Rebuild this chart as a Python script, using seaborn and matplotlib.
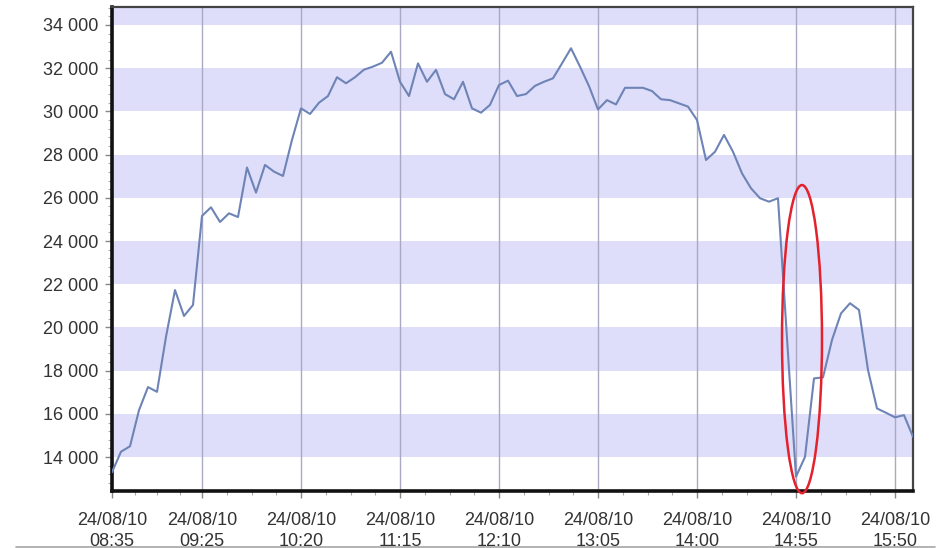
import numpy as np
import pandas as pd
import matplotlib
matplotlib.use("Agg")
import matplotlib.pyplot as plt
import matplotlib.dates as mdates
from matplotlib.patches import Ellipse
from matplotlib.lines import Line2D
from matplotlib.ticker import FuncFormatter, MultipleLocator, FixedLocator
import seaborn as sns

# ---------------- data ----------------
day = "2010-08-24"
start_time = "08:35"
step_minutes = 5
values = [
    13300, 14250, 14500, 16170, 17240, 17020, 19570, 21730, 20530, 21040,
    25160, 25560, 24880, 25280, 25110, 27400, 26240, 27520, 27210, 27010,
    28680, 30140, 29880, 30400, 30710, 31580, 31300, 31580, 31930, 32070,
    32250, 32760, 31370, 30710, 32220, 31370, 31920, 30800, 30560, 31370,
    30140, 29940, 30300, 31220, 31420, 30710, 30800, 31180, 31370, 31530,
    32220, 32920, 32070, 31170, 30090, 30520, 30320, 31090, 31090, 31090,
    30940, 30560, 30520, 30370, 30220, 29600, 27750, 28130, 28910, 28130,
    27130, 26440, 25980, 25820, 25980, 19500, 13090, 14010, 17640, 17690,
    19420, 20650, 21120, 20810, 18030, 16250, 16050, 15840, 15940, 14940,
]
tick_times = ["08:35", "09:25", "10:20", "11:15", "12:10", "13:05", "14:00", "14:55", "15:50"]
x_limits = ("08:35", "16:00")
y_limits = (12430, 34830)
y_major = list(range(14000, 34001, 2000))
band_starts = [14000, 18000, 22000, 26000, 30000, 34000]
band_height = 2000
highlight_time = "14:58:20"
highlight_value = 19460
highlight_width_min = 22.2
highlight_height = 14260

# ---------------- frame ----------------
times = pd.date_range(f"{day} {start_time}", periods=len(values), freq=f"{step_minutes}min")
df = pd.DataFrame({"time": times, "value": values})

sns.set_style("white")
plt.rcParams["font.family"] = ["Liberation Sans", "DejaVu Sans"]

fig = plt.figure(figsize=(9.38, 5.48), dpi=100)
ax = fig.add_axes([112 / 938, 1 - 491 / 548, (913 - 112) / 938, (491 - 7) / 548])

for b in band_starts:
    ax.axhspan(b, b + band_height, color="#dedefa", lw=0, zorder=0)

major_dt = [pd.Timestamp(f"{day} {t}") for t in tick_times]
for t in major_dt:
    ax.axvline(t, color="#a9a9c4", lw=1.0, zorder=1)

sns.lineplot(data=df, x="time", y="value", ax=ax, color="#6e84b6", lw=1.5, zorder=3)

ax.set_xlim(pd.Timestamp(f"{day} {x_limits[0]}"), pd.Timestamp(f"{day} {x_limits[1]}"))
ax.set_ylim(*y_limits)

# ticks
major_num = mdates.date2num(major_dt)
ax.xaxis.set_major_locator(FixedLocator(major_num))
minor_num = []
for a, b in zip(major_num[:-1], major_num[1:]):
    for k in (1, 2, 3):
        minor_num.append(a + (b - a) * k / 4)
minor_num.append(major_num[-1] + (major_num[-1] - major_num[-2]) / 4)
ax.xaxis.set_minor_locator(FixedLocator(minor_num))
ax.xaxis.set_major_formatter(mdates.DateFormatter("%d/%m/%y\n%H:%M"))

ax.yaxis.set_major_locator(FixedLocator(y_major))
ax.yaxis.set_minor_locator(MultipleLocator(400))
ax.yaxis.set_major_formatter(FuncFormatter(lambda v, p: f"{int(v):,}".replace(",", " ")))

ax.tick_params(axis="both", which="major", length=5, width=1, color="#888888",
               labelsize=13, labelcolor="#333333", direction="out", pad=5)
ax.tick_params(axis="both", which="minor", length=3, width=0.8, color="#aaaaaa", direction="out")
ax.tick_params(axis="x", which="major", pad=10)
ax.tick_params(bottom=True, left=True, which="both")
fig.canvas.draw()
for lab in ax.get_xticklabels():
    lab.set_linespacing(1.3)
    lab.set_horizontalalignment("center")

ax.set_xlabel("")
ax.set_ylabel("")

for side in ["left", "bottom"]:
    ax.spines[side].set_color("#111111")
    ax.spines[side].set_linewidth(2.6)
for side in ["top", "right"]:
    ax.spines[side].set_color("#444444")
    ax.spines[side].set_linewidth(1.6)
    ax.spines[side].set_visible(True)

# highlight ellipse
cx = mdates.date2num(pd.Timestamp(f"{day} {highlight_time}"))
ell = Ellipse((cx, highlight_value), width=highlight_width_min / 1440, height=highlight_height,
              fill=False, edgecolor="#e3222e", lw=1.8, zorder=5, clip_on=False)
ax.add_patch(ell)

# screenshot bottom line
fig.add_artist(Line2D([16 / 938, 935 / 938], [1 - 546.5 / 548] * 2, color="#a5a5a5", lw=1.2))

fig.savefig("out.png", dpi=100)
